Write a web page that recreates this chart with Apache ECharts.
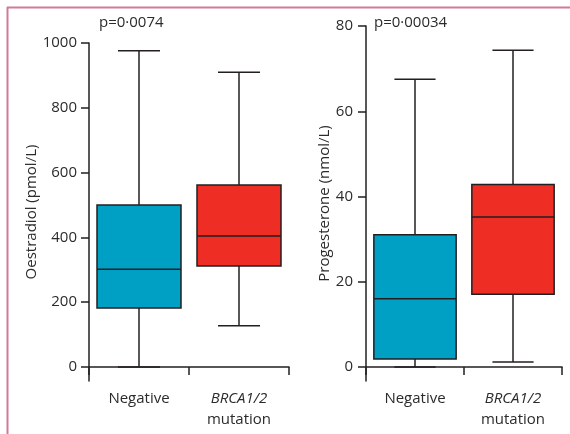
<!DOCTYPE html>
<html>
<head>
<meta charset="utf-8">
<script src="https://cdn.jsdelivr.net/npm/echarts@6/dist/echarts.min.js"></script>
<style>html,body{margin:0;padding:0;background:#fff;}#c{width:570px;height:434px;}</style>
</head>
<body>
<div id="c"></div>
<script>
// Data: [min, Q1, median, Q3, max]
var categories = ['Negative', 'BRCA1/2 mutation'];
var oestradiolNegative = [0, 182, 302, 500, 976];
var oestradiolBRCA = [127, 312, 404, 562, 910];
var progesteroneNegative = [0, 1.9, 16.0, 31.0, 67.5];
var progesteroneBRCA = [1.2, 17.1, 35.2, 42.8, 74.3];
var oestradiolTicks = [0, 200, 400, 600, 800, 1000];
var progesteroneTicks = [0, 20, 40, 60, 80];
var pLeft = 'p=0·0074';
var pRight = 'p=0·00034';

var FONT = '"Open Sans", "Noto Sans", sans-serif';
var FS = 15;
var INK = '#231f20';
var TXT = '#2b2b2b';
var COLORS = ['#00a0c4', '#ee2d24'];

function boxData(a, b) {
  return [[0].concat(a), [1].concat(b)];
}

function renderBox(params, api) {
  var cat = api.value(0);
  var vmin = api.value(1), q1 = api.value(2), med = api.value(3), q3 = api.value(4), vmax = api.value(5);
  var pMin = api.coord([cat, vmin]);
  var pQ1 = api.coord([cat, q1]);
  var pMed = api.coord([cat, med]);
  var pQ3 = api.coord([cat, q3]);
  var pMax = api.coord([cat, vmax]);
  var band = api.size([1, 0])[0];
  var bw = band * 0.84;
  var cw = bw / 2;
  var cx = pMed[0];
  var lineStyle = {stroke: INK, lineWidth: 1.5, fill: null};
  return {
    type: 'group',
    children: [
      {type: 'line', shape: {x1: cx, y1: pMax[1], x2: cx, y2: pQ3[1]}, style: lineStyle},
      {type: 'line', shape: {x1: cx, y1: pQ1[1], x2: cx, y2: pMin[1]}, style: lineStyle},
      {type: 'line', shape: {x1: cx - cw / 2, y1: pMax[1], x2: cx + cw / 2, y2: pMax[1]}, style: lineStyle},
      {type: 'line', shape: {x1: cx - cw / 2, y1: pMin[1], x2: cx + cw / 2, y2: pMin[1]}, style: lineStyle},
      {type: 'rect', shape: {x: cx - bw / 2, y: pQ3[1], width: bw, height: pQ1[1] - pQ3[1]},
        style: {fill: COLORS[cat], stroke: INK, lineWidth: 1.5}},
      {type: 'line', shape: {x1: cx - bw / 2, y1: pMed[1], x2: cx + bw / 2, y2: pMed[1]}, style: lineStyle}
    ]
  };
}

function xAxisCfg(gi) {
  return {
    type: 'category', gridIndex: gi, data: categories,
    axisLine: {show: true, lineStyle: {color: INK, width: 1.5}},
    axisTick: {show: true, length: 8, lineStyle: {color: INK, width: 1.5}},
    axisLabel: {
      interval: 0, hideOverlap: false,
      margin: 7, color: TXT, fontFamily: FONT, fontSize: FS, lineHeight: 21,
      formatter: function (v) {
        if (v.indexOf('BRCA') === 0) return '{i|BRCA1/2}\n{n|mutation}';
        return '{n|' + v + '}';
      },
      rich: {
        i: {fontStyle: 'italic', fontFamily: FONT, fontSize: FS, color: TXT, lineHeight: 21},
        n: {fontFamily: FONT, fontSize: FS, color: TXT, lineHeight: 21}
      }
    },
    splitLine: {show: false}
  };
}

function yAxisCfg(gi, min, max, ticks, name, gap, margin) {
  return {
    type: 'value', gridIndex: gi, min: min, max: max,
    name: name, nameLocation: 'middle', nameGap: gap,
    nameTextStyle: {color: TXT, fontFamily: FONT, fontSize: FS},
    axisLine: {show: true, lineStyle: {color: INK, width: 1.5}},
    axisTick: {show: true, length: 8, customValues: ticks, lineStyle: {color: INK, width: 1.5}},
    axisLabel: {show: true, margin: margin, customValues: ticks, color: TXT, fontFamily: FONT, fontSize: FS,
      formatter: function (v) { return String(v); }},
    splitLine: {show: false}
  };
}

var chart = echarts.init(document.getElementById('c'), null, {renderer: 'canvas'});
chart.setOption({
  animation: false,
  backgroundColor: '#ffffff',
  grid: [
    {left: 89, top: 43, width: 200, height: 338},
    {left: 366, top: 26, width: 196, height: 355}
  ],
  xAxis: [xAxisCfg(0), xAxisCfg(1)],
  yAxis: [
    yAxisCfg(0, -43.2, 1000, oestradiolTicks, 'Oestradiol (pmol/L)', 50, 12),
    yAxisCfg(1, -3.28, 80, progesteroneTicks, 'Progesterone (nmol/L)', 34, 13)
  ],
  series: [
    {type: 'custom', xAxisIndex: 0, yAxisIndex: 0, renderItem: renderBox,
      encode: {x: 0, y: [1, 2, 3, 4, 5]}, data: boxData(oestradiolNegative, oestradiolBRCA)},
    {type: 'custom', xAxisIndex: 1, yAxisIndex: 1, renderItem: renderBox,
      encode: {x: 0, y: [1, 2, 3, 4, 5]}, data: boxData(progesteroneNegative, progesteroneBRCA)}
  ],
  graphic: [
    {type: 'line', shape: {x1: 7, y1: 7.5, x2: 570, y2: 7.5}, style: {stroke: '#d27a97', lineWidth: 2}},
    {type: 'line', shape: {x1: 7.5, y1: 7, x2: 7.5, y2: 434}, style: {stroke: '#d27a97', lineWidth: 2}},
    {type: 'text', left: 99, top: 15, style: {text: pLeft, fill: TXT, font: FS + 'px ' + FONT}},
    {type: 'text', left: 374, top: 15, style: {text: pRight, fill: TXT, font: FS + 'px ' + FONT}}
  ]
});
</script>
</body>
</html>
